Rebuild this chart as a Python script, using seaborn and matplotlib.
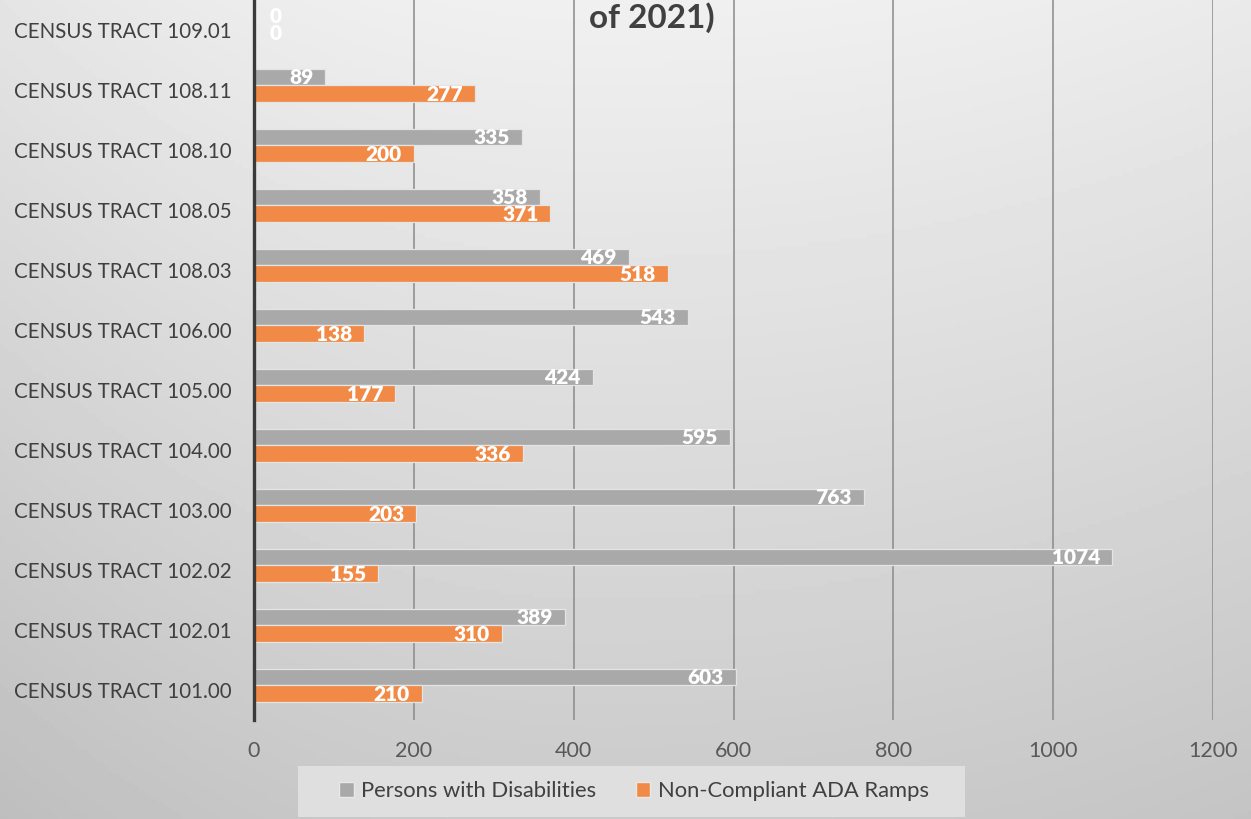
import numpy as np
import pandas as pd
import matplotlib.pyplot as plt
import matplotlib.patches as mpatches
import matplotlib.transforms as mtransforms
import seaborn as sns

tracts = ['CENSUS TRACT 109.01', 'CENSUS TRACT 108.11', 'CENSUS TRACT 108.10',
          'CENSUS TRACT 108.05', 'CENSUS TRACT 108.03', 'CENSUS TRACT 106.00',
          'CENSUS TRACT 105.00', 'CENSUS TRACT 104.00', 'CENSUS TRACT 103.00',
          'CENSUS TRACT 102.02', 'CENSUS TRACT 102.01', 'CENSUS TRACT 101.00']
disabilities = [0, 89, 335, 358, 469, 543, 424, 595, 763, 1074, 389, 603]
ramps = [0, 277, 200, 371, 518, 138, 177, 336, 203, 155, 310, 210]
series = ['Persons with Disabilities', 'Non-Compliant ADA Ramps']
colors = ['#a9a9a9', '#f08a46']
xticks = [0, 200, 400, 600, 800, 1000, 1200]

df = pd.DataFrame({
    'tract': tracts * 2,
    'value': disabilities + ramps,
    'series': [series[0]] * len(tracts) + [series[1]] * len(tracts),
})

sns.set_style('white')
plt.rcParams['font.family'] = ['Lato', 'DejaVu Sans']

W, H = 1251, 819
fig = plt.figure(figsize=(W / 100, H / 100), dpi=100)

# background gradient
bg = fig.add_axes([0, 0, 1, 1], zorder=-10)
xx, yy = np.meshgrid(np.linspace(0, 1, 300), np.linspace(0, 1, 200))
dx = xx - 0.48
side = np.where(dx < 0, 14, 6)
v = 240 - 38 * yy - side * (dx / 0.52) ** 2
bg.imshow(v / 255, cmap='gray', vmin=0, vmax=1, aspect='auto', extent=[0, 1, 1, 0])
bg.set_axis_off()

ax = fig.add_axes([254 / W, 1 - 720 / H, (1213 - 254) / W, 720 / H])
ax.set_facecolor('none')

sns.barplot(data=df, y='tract', x='value', hue='series', hue_order=series,
            orient='h', palette=colors, width=0.55, edgecolor='#e4e4e4',
            linewidth=0.9, ax=ax, legend=False, zorder=3, saturation=1)

d = 0.08
ax.set_ylim(11.5 + d, -0.5 + d)
ax.set_xlim(0, 1200)
ax.set_xticks(xticks)
ax.set_xticklabels([str(t) for t in xticks])
ax.xaxis.grid(True, color='#8a8a8a', linewidth=1.1, zorder=0)
ax.set_axisbelow(True)
for s in ['top', 'right', 'bottom']:
    ax.spines[s].set_visible(False)
ax.spines['left'].set_color('#3a3a3a')
ax.spines['left'].set_linewidth(2.4)
ax.spines['left'].set_zorder(5)
ax.tick_params(axis='both', length=0)
ax.tick_params(axis='y', labelsize=14.8, labelcolor='#404040', pad=16)
ax.tick_params(axis='x', labelsize=15.5, labelcolor='#595959', pad=15)
ax.set_xlabel('')
ax.set_ylabel('')
shift = mtransforms.ScaledTranslation(0, -5 / 100, fig.dpi_scale_trans)
for lab in ax.get_yticklabels():
    lab.set_transform(lab.get_transform() + shift)

# value labels (white, inside the bar end)
for cont, vals in zip(ax.containers, [disabilities, ramps]):
    for bar, val in zip(cont, vals):
        yc = bar.get_y() + bar.get_height() / 2
        if val == 0:
            ax.annotate(str(val), xy=(0, yc), xytext=(22, 0), textcoords='offset pixels',
                        ha='center', va='center', color='white', fontsize=15,
                        fontweight='heavy', zorder=6)
        else:
            ax.annotate(str(val), xy=(val, yc), xytext=(-12, -1), textcoords='offset pixels',
                        ha='right', va='center', color='white', fontsize=15,
                        fontweight='heavy', zorder=6)

fig.text(652 / W, 0.997, 'of 2021)', ha='center', va='top', fontsize=24,
         fontweight='bold', color='#404040')

# legend
fig.patches.append(mpatches.Rectangle((298 / W, 1 - 817 / H), (965 - 298) / W, 51 / H,
                                      transform=fig.transFigure, facecolor='#dfdfdf',
                                      edgecolor='none', zorder=1))
handles = [mpatches.Patch(facecolor=c, edgecolor='#e8e8e8') for c in colors]
fig.legend(handles, series, loc='center', bbox_to_anchor=(634 / W, 1 - 791 / H),
           ncol=2, frameon=False, fontsize=15.8, handlelength=0.65, handleheight=0.65,
           handletextpad=0.35, columnspacing=1.8, labelcolor='#404040')

fig.savefig('out.png', dpi=100)
